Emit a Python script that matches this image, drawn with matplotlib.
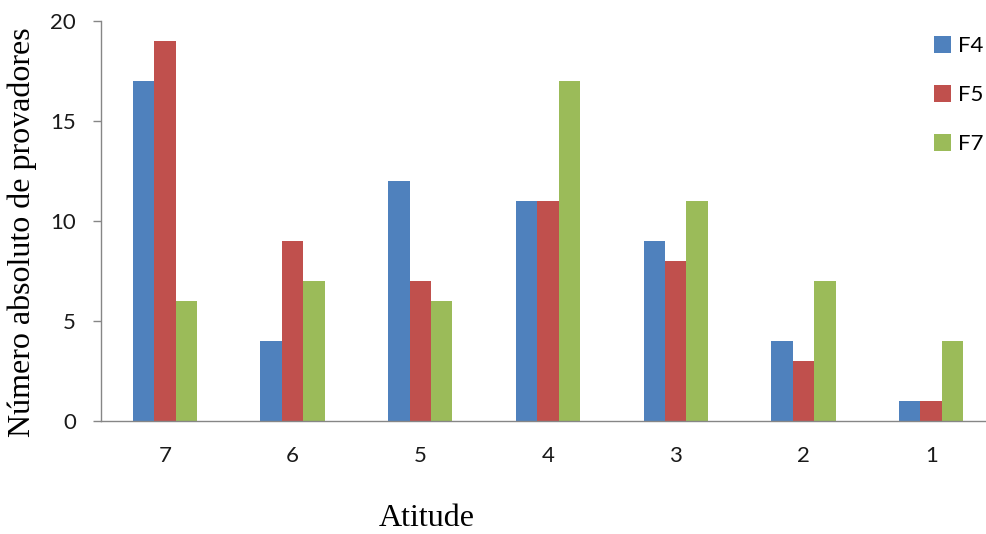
import matplotlib
matplotlib.use("Agg")
import matplotlib.pyplot as plt
import numpy as np

categories = ["7", "6", "5", "4", "3", "2", "1"]
f4 = [17, 4, 12, 11, 9, 4, 1]
f5 = [19, 9, 7, 11, 8, 3, 1]
f7 = [6, 7, 6, 17, 11, 7, 4]
series_names = ["F4", "F5", "F7"]
colors = ["#4F81BD", "#C0504D", "#9BBB59"]
yticks = [0, 5, 10, 15, 20]

W, H = 986, 534
fig = plt.figure(figsize=(W / 100, H / 100), dpi=100)
ax = fig.add_axes([101 / W, 1 - 421 / H, 894 / W, 400 / H])

x = np.arange(len(categories))
bw = 0.168
for i, (vals, c, name) in enumerate(zip([f4, f5, f7], colors, series_names)):
    ax.bar(x + (i - 1) * bw, vals, width=bw, color=c, label=name, zorder=2)

ax.set_xlim(-0.5, len(categories) - 0.5)
ax.set_ylim(0, 20)
ax.set_yticks(yticks)
ax.set_xticks(x)
ax.set_xticklabels(categories)

tick_font = "Lato"
for lbl in ax.get_xticklabels() + ax.get_yticklabels():
    lbl.set_fontfamily(tick_font)
    lbl.set_fontsize(16)
    lbl.set_color("#1a1a1a")

ax.tick_params(axis="x", length=0, pad=18)
ax.tick_params(axis="y", length=6, width=1, color="#868686", pad=12)

for s in ["top", "right"]:
    ax.spines[s].set_visible(False)
for s in ["left", "bottom"]:
    ax.spines[s].set_color("#868686")
    ax.spines[s].set_linewidth(1)

fig.text(22 / W, 1 - 232 / H, "Número absoluto de provadores", rotation=90,
         ha="center", va="center", fontfamily="Liberation Serif", fontsize=23)
fig.text(427 / W, 1 - 519 / H, "Atitude", ha="center", va="center",
         fontfamily="Liberation Serif", fontsize=23)

leg = ax.legend(loc="upper left", bbox_to_anchor=(934 / W, 1 - 36 / H),
                bbox_transform=fig.transFigure, frameon=False,
                prop={"family": tick_font, "size": 16},
                handlelength=0.77, handleheight=0.77, handletextpad=0.3,
                labelspacing=1.31, borderpad=0, borderaxespad=0)

fig.savefig("out.png", dpi=100)
